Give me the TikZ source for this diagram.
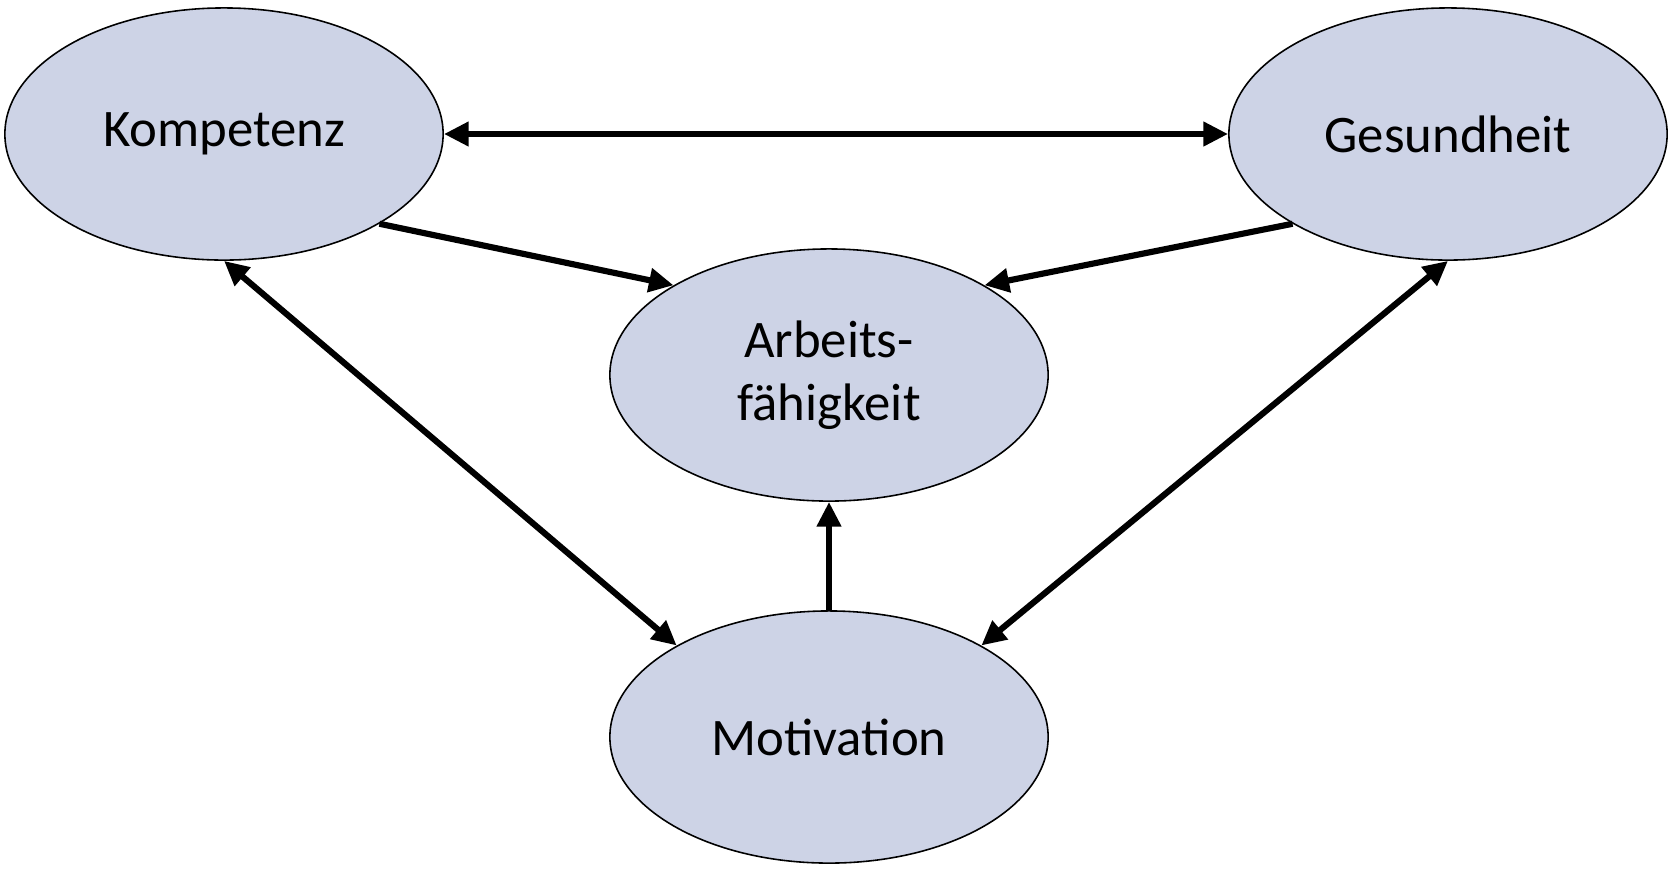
\documentclass[tikz,border=0pt]{standalone}
\usepackage{fontspec}
\setmainfont{Carlito}
\usepackage{tikz}
\usetikzlibrary{shapes.geometric}
\usetikzlibrary{arrows.meta}

\definecolor{kreisblau}{RGB}{205,211,230}

\begin{document}
\begin{tikzpicture}[x=0.01cm,y=-0.01cm,
        faktor/.style={ellipse,draw=black,line width=0.45pt,fill=kreisblau,
            minimum width=4.38cm,minimum height=2.52cm,inner sep=0pt,
            align=center,font=\fontsize{15}{18}\selectfont},
        pfeil/.style={line width=1.75pt,-{Triangle[length=7pt,width=6.6pt]}},
        doppelpfeil/.style={line width=1.75pt,
            {Triangle[length=7pt,width=6.6pt]}-{Triangle[length=7pt,width=6.6pt]}}]
    \useasboundingbox (0,0) rectangle (1671,869);

    % die vier Faktoren
    \node[faktor] (kompetenz) at (224,134) {Kompetenz};
    \node[faktor] (gesundheit) at (1448,134) {Gesundheit};
    \node[faktor] (arbeit) at (829,375) {Arbeits-\\fähigkeit};
    \node[faktor] (motivation) at (829,737) {Motivation};

    % Wechselwirkungen
    \draw[doppelpfeil] (kompetenz.east) -- (gesundheit.west);
    \draw[doppelpfeil] (kompetenz.south) -- (motivation.149);
    \draw[doppelpfeil] (gesundheit.south) -- (motivation.31);

    % Einfluss auf die Arbeitsfaehigkeit
    \draw[pfeil] (kompetenz.-30) -- (arbeit.150);
    \draw[pfeil] (gesundheit.-150) -- (arbeit.30);
    \draw[pfeil] (motivation.north) -- (arbeit.south);
\end{tikzpicture}
\end{document}
